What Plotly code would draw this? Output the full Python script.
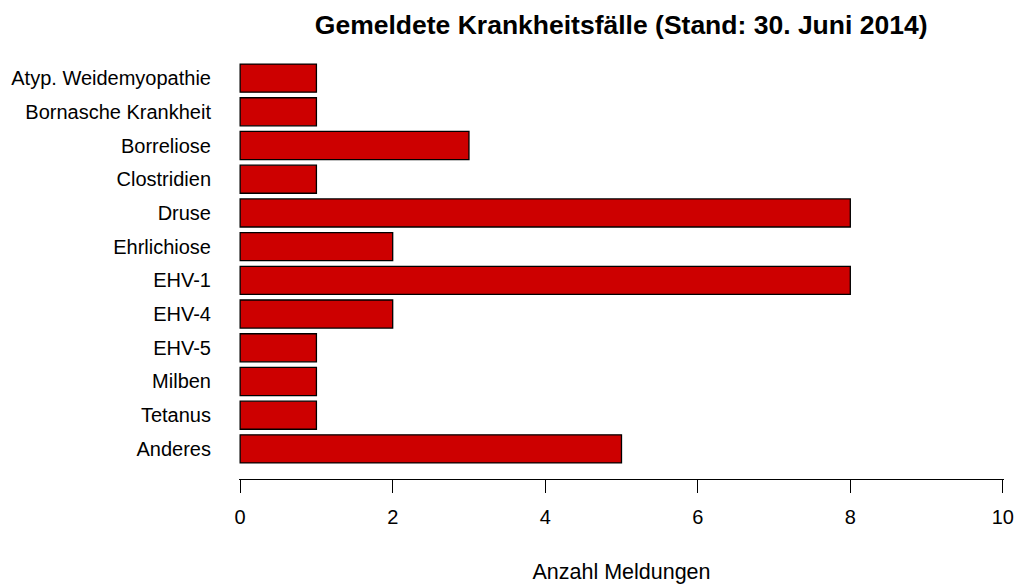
import plotly.graph_objects as go

# === data ===
krankheiten = [
    "Atyp. Weidemyopathie", "Bornasche Krankheit", "Borreliose", "Clostridien",
    "Druse", "Ehrlichiose", "EHV-1", "EHV-4", "EHV-5", "Milben", "Tetanus", "Anderes",
]
meldungen = [1, 1, 3, 1, 8, 2, 8, 2, 1, 1, 1, 5]
x_ticks = [0, 2, 4, 6, 8, 10]

fig = go.Figure()
fig.add_trace(go.Bar(
    x=meldungen,
    y=krankheiten,
    orientation="h",
    marker=dict(color="#CD0000", line=dict(color="black", width=1.3)),
    hoverinfo="x+y",
))

fig.update_layout(
    width=1020,
    height=584,
    margin=dict(l=239, r=16, t=48, b=105, autoexpand=False),
    paper_bgcolor="white",
    plot_bgcolor="white",
    font=dict(family="Liberation Sans, Arial, sans-serif", color="black"),
    title=dict(
        text="<b>Gemeldete Krankheitsfälle (Stand: 30. Juni 2014)</b>",
        font=dict(size=26.5, color="black"),
        x=0.609, xanchor="center", y=0.957, yanchor="middle",
    ),
    bargap=1 / 6,
    showlegend=False,
)

fig.update_xaxes(
    range=[-0.015, 10.015],
    tickvals=x_ticks,
    ticks="outside",
    ticklen=13,
    tickwidth=1.3,
    tickcolor="black",
    showline=True,
    linecolor="black",
    linewidth=1.3,
    showgrid=False,
    zeroline=False,
    automargin=False,
    ticklabelstandoff=7,
    tickfont=dict(size=20),
    title=dict(text="Anzahl Meldungen", font=dict(size=21.5), standoff=36),
)

fig.update_yaxes(
    type="category",
    categoryorder="array",
    categoryarray=krankheiten,
    range=[11.893, -0.893],
    showgrid=False,
    zeroline=False,
    showline=False,
    automargin=False,
    ticks="",
    ticklabelstandoff=27,
    tickfont=dict(size=20),
)

# drop the default 8px body margin so the figure fills the window exactly
fig.write_html(
    "out.html",
    config={"displayModeBar": False},
    post_script="document.body.style.margin='0';",
)
